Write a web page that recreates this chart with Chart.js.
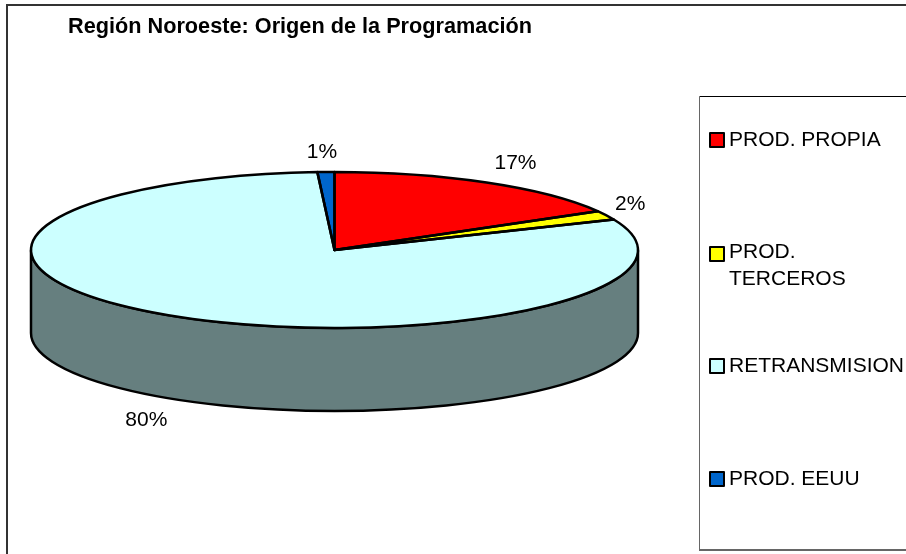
<!DOCTYPE html>
<html><head><meta charset="utf-8">
<style>html,body{margin:0;padding:0;background:#fff}#w{width:906px;height:554px;overflow:hidden}</style>
<script src="https://cdn.jsdelivr.net/npm/chart.js@4/dist/chart.umd.min.js"></script>
</head><body><div id="w"><canvas id="c" width="906" height="554"></canvas></div>
<script>
const titleText = 'Región Noroeste: Origen de la Programación';
const categories = ['PROD. PROPIA', 'PROD. TERCEROS', 'RETRANSMISION', 'PROD. EEUU'];
const values = [16.7, 1.9, 80.5, 0.9];
const percentLabels = ['17%', '2%', '80%', '1%'];
const sliceColors = ['#ff0000', '#ffff00', '#ccffff', '#0066cc'];
const sideColors = ['#800000', '#808000', '#667f7f', '#003366'];

const FONT = '"Liberation Sans", Arial, sans-serif';
const pieBox = { cx: 334.5, cy: 250, rx: 303.5, ry: 78, depth: 83 };
const labelOffsets = [[29, -19], [24, -11], [-28, 21], [-4, -20]];
const legendRows = [140, 254, 366, 479];

const frame = {
  id: 'frame',
  beforeDraw(chart) {
    const ctx = chart.ctx;
    ctx.save();
    ctx.lineWidth = 2; ctx.strokeStyle = '#333';
    ctx.beginPath(); ctx.moveTo(7, 554); ctx.lineTo(7, 5); ctx.lineTo(906, 5); ctx.stroke();
    ctx.restore();
  }
};
const pie3d = {
  id: 'pie3d',
  beforeDatasetsDraw(chart) {
    const ctx = chart.ctx, els = chart.getDatasetMeta(0).data, P = pieBox;
    const R = els[0].outerRadius;
    ctx.save();
    els.forEach((el, i) => {
      const lo = Math.max(el.startAngle, 0), hi = Math.min(el.endAngle, Math.PI);
      if (hi <= lo) return;
      ctx.beginPath();
      ctx.ellipse(P.cx, P.cy, P.rx, P.ry, 0, lo, hi);
      ctx.ellipse(P.cx, P.cy + P.depth, P.rx, P.ry, 0, hi, lo, true);
      ctx.closePath();
      ctx.fillStyle = sideColors[i]; ctx.fill();
      ctx.lineWidth = 2.5; ctx.strokeStyle = '#000'; ctx.lineJoin = 'round'; ctx.stroke();
    });
    ctx.translate(P.cx, P.cy); ctx.scale(P.rx / R, P.ry / R); ctx.translate(-els[0].x, -els[0].y);
  },
  afterDatasetsDraw(chart) {
    const ctx = chart.ctx, els = chart.getDatasetMeta(0).data, P = pieBox;
    ctx.restore();
    ctx.save();
    ctx.lineWidth = 2.5; ctx.strokeStyle = '#000'; ctx.lineJoin = 'round';
    els.forEach(el => {
      ctx.beginPath();
      ctx.moveTo(P.cx, P.cy);
      ctx.ellipse(P.cx, P.cy, P.rx, P.ry, 0, el.startAngle, el.endAngle);
      ctx.closePath();
      ctx.stroke();
    });
    ctx.fillStyle = '#000'; ctx.font = '21px ' + FONT; ctx.textAlign = 'center'; ctx.textBaseline = 'middle';
    els.forEach((el, i) => {
      const mid = (el.startAngle + el.endAngle) / 2;
      const x = P.cx + P.rx * Math.cos(mid), y = P.cy + P.ry * Math.sin(mid) + (Math.sin(mid) > 0 ? P.depth : 0);
      ctx.fillText(percentLabels[i], x + labelOffsets[i][0], y + labelOffsets[i][1]);
    });
    // legend box
    ctx.lineWidth = 1; ctx.strokeStyle = '#000';
    ctx.beginPath(); ctx.moveTo(906, 96.5); ctx.lineTo(699.5, 96.5); ctx.stroke();
    ctx.strokeStyle = '#666';
    ctx.beginPath(); ctx.moveTo(699.5, 96.5); ctx.lineTo(699.5, 550); ctx.stroke();
    ctx.lineWidth = 2;
    ctx.beginPath(); ctx.moveTo(699, 550); ctx.lineTo(906, 550); ctx.stroke();
    categories.forEach((name, i) => {
      const yc = legendRows[i];
      ctx.fillStyle = sliceColors[i]; ctx.fillRect(710, yc - 7, 14, 14);
      ctx.lineWidth = 2; ctx.strokeStyle = '#000'; ctx.strokeRect(710, yc - 7, 14, 14);
      ctx.fillStyle = '#000'; ctx.textAlign = 'left'; ctx.textBaseline = 'middle';
      if (729 + ctx.measureText(name).width > 906) {
        const k = name.lastIndexOf(' ');
        ctx.fillText(name.slice(0, k), 729, yc - 2);
        ctx.fillText(name.slice(k + 1), 729, yc + 25);
      } else ctx.fillText(name, 729, yc);
    });
    ctx.restore();
  }
};

new Chart(document.getElementById('c'), {
  type: 'pie',
  data: { labels: categories, datasets: [{ data: values, backgroundColor: sliceColors, borderWidth: 0, clip: false }] },
  options: {
    responsive: false, animation: false,
    layout: { padding: { left: 68, top: 14 } },
    plugins: {
      legend: { display: false }, tooltip: { enabled: false },
      title: { display: true, text: titleText, align: 'start', color: '#000', padding: 0,
               font: { family: FONT, size: 21.7, weight: 'bold' } }
    }
  },
  plugins: [frame, pie3d]
});
</script></body></html>
